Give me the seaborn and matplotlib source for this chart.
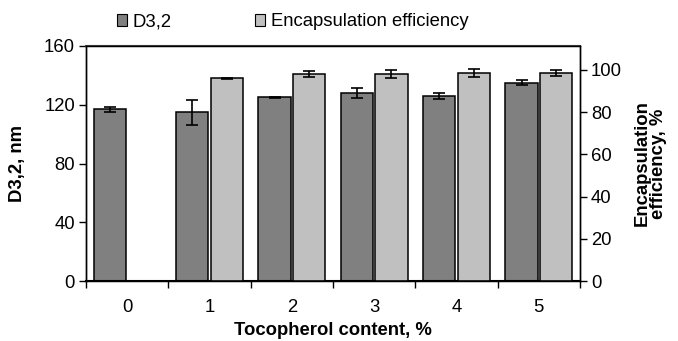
import numpy as np
import pandas as pd
import matplotlib
matplotlib.use("Agg")
import matplotlib.pyplot as plt
import seaborn as sns
from matplotlib.patches import Patch

categories = ["0", "1", "2", "3", "4", "5"]
d32 = [117, 115, 125, 128, 126, 135]
d32_err = [1.8, 8.5, 0.6, 3.2, 1.8, 1.8]
ee = [np.nan, 96, 98, 98, 98.5, 98.5]
ee_err = [np.nan, 0.3, 1.2, 1.9, 1.8, 1.5]

sns.set_theme(style="white")
plt.rcParams['font.family'] = ['Liberation Sans', 'DejaVu Sans']
plt.rcParams.update({"text.color": "black", "axes.labelcolor": "black",
                     "xtick.color": "black", "ytick.color": "black"})

FS = 13.3

fig = plt.figure(figsize=(6.78, 3.41), dpi=100)
ax = fig.add_axes([86/678, 1-281/341, (580-86)/678, (281-46)/341])
ax2 = ax.twinx()

hue_order = ["D3,2", "Encapsulation efficiency"]
palette = {"D3,2": "#808080", "Encapsulation efficiency": "#C0C0C0"}
dfd = pd.DataFrame({"x": categories, "y": d32, "s": "D3,2"})
dfe = pd.DataFrame({"x": categories, "y": ee, "s": "Encapsulation efficiency"})

sns.barplot(data=dfd, x="x", y="y", hue="s", hue_order=hue_order, order=categories,
            palette=palette, width=0.84, gap=0.06, edgecolor="black", linewidth=1.1,
            dodge=True, ax=ax, legend=False)
sns.barplot(data=dfe, x="x", y="y", hue="s", hue_order=hue_order, order=categories,
            palette=palette, width=0.84, gap=0.06, edgecolor="black", linewidth=1.1,
            dodge=True, ax=ax2, legend=False)

def add_err(a, vals, errs):
    pairs = [(v, e) for v, e in zip(vals, errs) if not np.isnan(v)]
    bars = sorted([p for p in a.patches if p.get_height() > 0], key=lambda p: p.get_x())
    xs = [p.get_x() + p.get_width()/2 for p in bars]
    a.errorbar(xs, [p[0] for p in pairs], yerr=[p[1] for p in pairs], fmt="none",
               ecolor="black", elinewidth=1.2, capsize=4, capthick=1.2, zorder=5)

add_err(ax, d32, d32_err)
add_err(ax2, ee, ee_err)

ax.set_xlim(-0.5, len(categories)-0.5)
ax.set_ylim(0, 160)
ax.set_yticks([0, 40, 80, 120, 160])
ax2.set_ylim(0, 160*100/143.8)
ax2.set_yticks([0, 20, 40, 60, 80, 100])

for a in (ax, ax2):
    for s in a.spines.values():
        s.set_visible(True)
        s.set_color("black")
        s.set_linewidth(1.0)
ax.spines["bottom"].set_linewidth(1.5)
ax.spines["top"].set_color("#404040")
ax.spines["top"].set_linewidth(1.5)

ax.set_xticks(range(len(categories)))
ax.set_xticklabels(categories)
ax.set_xticks(np.arange(-0.5, len(categories), 1.0), minor=True)
ax.tick_params(axis="x", which="major", length=0, pad=13, labelsize=FS)
ax.tick_params(axis="x", which="minor", length=5, width=1, direction="out", bottom=True)
ax.tick_params(axis="y", length=5, width=1, direction="out", left=True, labelsize=FS, pad=3)
ax2.tick_params(axis="y", length=5, width=1, direction="out", right=True, labelsize=FS, pad=3)

ax.set_xlabel("Tocopherol content, %", fontsize=FS, fontweight="bold", labelpad=4.5)
ax.set_ylabel("D3,2, nm", fontsize=FS, fontweight="bold", va="center")
ax.yaxis.set_label_coords(-0.1387, 0.5)
ax2.set_ylabel("Encapsulation\nefficiency, %", fontsize=FS, fontweight="bold",
               rotation=90, va="center", ha="center", linespacing=0.95)
ax2.yaxis.set_label_coords(1.1417, 0.5)
ax2.grid(False)
ax.grid(False)

handles = [Patch(facecolor=palette[h], edgecolor="black", linewidth=0.8) for h in hue_order]
fig.legend(handles, hue_order, loc="center left", bbox_to_anchor=(117/678, 1-22/341),
           ncol=2, frameon=False, fontsize=FS, handlelength=0.55, handleheight=0.55,
           handletextpad=0.3, columnspacing=4.5, borderpad=0, borderaxespad=0)

fig.savefig("out.png", dpi=100)
